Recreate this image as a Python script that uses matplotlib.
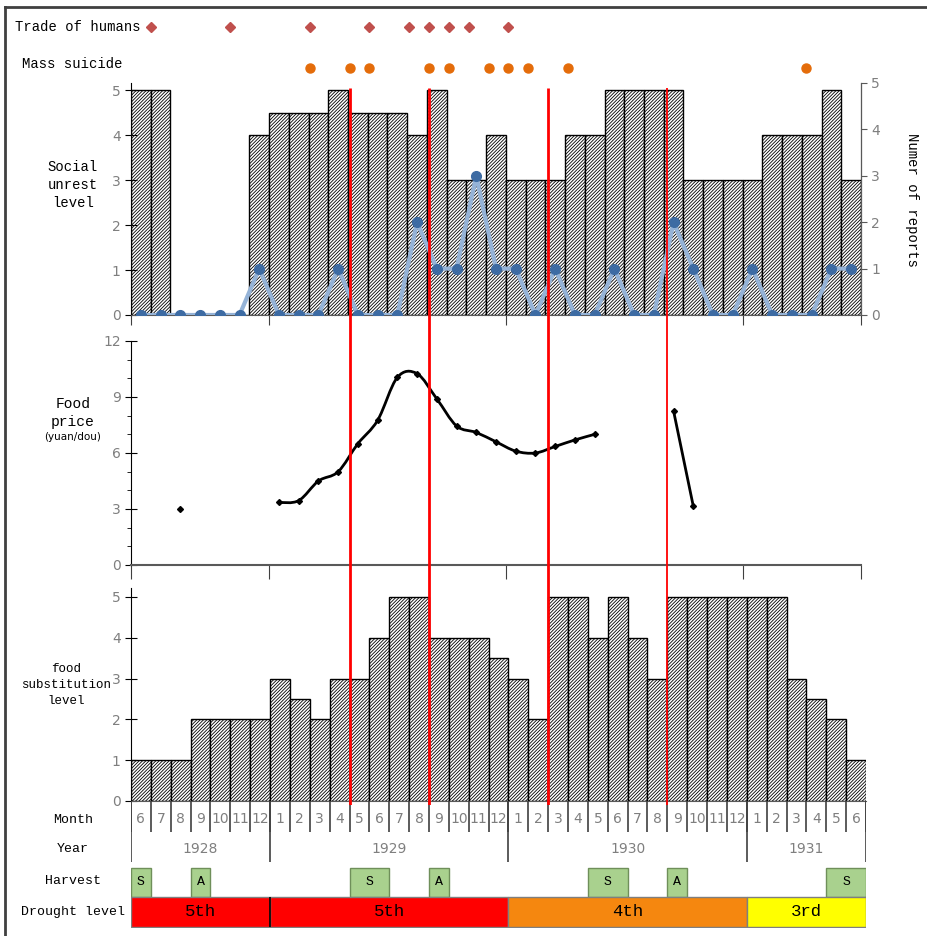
import matplotlib.pyplot as plt
import numpy as np
from matplotlib.path import Path
from matplotlib.patches import PathPatch, Rectangle
from matplotlib.lines import Line2D

plt.rcParams['hatch.linewidth'] = 0.6

## data, one value per month from June 1928 to June 1931
month_labels = [6, 7, 8, 9, 10, 11, 12,
                1, 2, 3, 4, 5, 6, 7, 8, 9, 10, 11, 12,
                1, 2, 3, 4, 5, 6, 7, 8, 9, 10, 11, 12,
                1, 2, 3, 4, 5, 6]
years = ['1928', '1929', '1930', '1931']
year_months = [7, 12, 12, 6]

unrest = [5, 5, 0, 0, 0, 0, 4,
          4.5, 4.5, 4.5, 5, 4.5, 4.5, 4.5, 4, 5, 3, 3, 4,
          3, 3, 3, 4, 4, 5, 5, 5, 5, 3, 3, 3,
          3, 4, 4, 4, 5, 3]
reports = [0, 0, 0, 0, 0, 0, 1,
           0, 0, 0, 1, 0, 0, 0, 2, 1, 1, 3, 1,
           1, 0, 1, 0, 0, 1, 0, 0, 2, 1, 0, 0,
           1, 0, 0, 0, 1, 1]
nan = np.nan
price = [nan, nan, 3.0, nan, nan, nan, nan,
         3.35, 3.45, 4.5, 5.0, 6.5, 7.75, 10.05, 10.25, 8.9, 7.45, 7.1, 6.6,
         6.1, 6.0, 6.35, 6.7, 7.0, nan, nan, nan, 8.25, 3.15, nan, nan, nan,
         nan, nan, nan, nan, nan, nan]
food_sub = [1, 1, 1, 2, 2, 2, 2,
            3, 2.5, 2, 3, 3, 4, 5, 5, 4, 4, 4, 3.5,
            3, 2, 5, 5, 4, 5, 4, 3, 5, 5, 5, 5,
            5, 5, 3, 2.5, 2, 1]

# events, in months counted from start of June 1928
trade = [1, 5, 9, 12, 14, 15, 16, 17, 19]
suicide = [9, 11, 12, 15, 16, 18, 19, 20, 22, 34]
red_lines = [11, 15, 21, 27]

harvest_start = [0, 3, 11, 15, 23, 27, 35]
harvest_len = [1, 1, 2, 1, 2, 1, 2]
harvest_lab = ['S', 'A', 'S', 'A', 'S', 'A', 'S']

drought_start = [0, 7, 19, 31]
drought_len = [7, 12, 12, 6]
drought_lab = ['5th', '5th', '4th', '3rd']
drought_col = ['#ff0000', '#ff0000', '#f5870f', '#ffff00']

W, H = 927, 936
N = len(month_labels)
mono = 'Liberation Mono'
grey = '#7f7f7f'
HATCH = '//////////'


def box(x0, y0, x1, y1):
    return [x0 / W, 1 - y1 / H, (x1 - x0) / W, (y1 - y0) / H]


def smooth(xs, ys):
    pts = np.column_stack([xs, ys])
    verts, codes = [pts[0]], [Path.MOVETO]
    n = len(pts)
    for i in range(n - 1):
        p0 = pts[i - 1] if i > 0 else pts[i]
        p1, p2 = pts[i], pts[i + 1]
        p3 = pts[i + 2] if i + 2 < n else p2
        verts += [p1 + (p2 - p0) / 6, p2 - (p3 - p1) / 6, p2]
        codes += [Path.CURVE4] * 3
    return Path(verts, codes)


fig = plt.figure(figsize=(W / 100, H / 100), dpi=100)
xc = np.arange(N) + 0.5

# events row
ax_ev = fig.add_axes(box(131, 10, 866, 80))
ax_ev.set_xlim(0, N)
ax_ev.set_ylim(-0.29, 1.41)
ax_ev.axis('off')
ax_ev.plot(trade, np.ones(len(trade)), 'D', ms=5, color='#c0504d', clip_on=False)
ax_ev.plot(suicide, np.zeros(len(suicide)), 'o', ms=6.5, color='#e46c0a', clip_on=False)
fig.text(141 / W, 1 - 27 / H, 'Trade of humans', ha='right', va='center', family=mono, fontsize=10)
fig.text(22 / W, 1 - 64 / H, 'Mass suicide', ha='left', va='center', family=mono, fontsize=10)

# social unrest
ax1 = fig.add_axes(box(131, 83, 861, 315))
ax1.bar(xc, unrest, width=1, facecolor='white', edgecolor='black', hatch=HATCH, lw=1)
ax1.set_xlim(0, N)
ax1.set_ylim(0, 5.16)
ax1.set_yticks(range(6))
ax1.set_xticks([0, 7, 19, 31, 37])
ax1.set_xticklabels([])
ax1.tick_params(axis='y', direction='inout', length=8, colors='black', labelcolor=grey, labelsize=10)
ax1.tick_params(axis='x', direction='out', length=7, color='#404040')
ax1.spines['top'].set_visible(False)
ax1.spines['bottom'].set_color('#595959')
ax1r = ax1.twinx()
ax1r.set_ylim(0, 5)
ax1r.plot(xc, reports, '-', color='#95b3d7', lw=3)
ax1r.plot(xc, reports, 'o', color='#3d6ba3', ms=7)
ax1r.set_yticks(range(6))
ax1r.tick_params(axis='y', direction='out', length=4, color='#595959', labelcolor=grey, labelsize=10)
for s in ['top', 'left']:
    ax1r.spines[s].set_visible(False)
ax1r.spines['right'].set_color('#595959')
ax1r.spines['bottom'].set_visible(False)
fig.text(73 / W, 1 - 185 / H, 'Social\nunrest\nlevel', ha='center', va='center',
         family=mono, fontsize=10, linespacing=1.35)
fig.text(912 / W, 1 - 200 / H, 'Numer of reports', ha='center', va='center', rotation=270,
         family=mono, fontsize=10)

# food price
ax2 = fig.add_axes(box(131, 341, 861, 565))
p = np.array(price)
ok = ~np.isnan(p)
runs, cur = [], []
for i in range(N):
    if ok[i]:
        cur.append(i)
    elif cur:
        runs.append(cur)
        cur = []
if cur:
    runs.append(cur)
for r in runs:
    if len(r) > 1:
        ax2.add_patch(PathPatch(smooth(xc[r], p[r]), facecolor='none', edgecolor='black', lw=2))
    ax2.plot(xc[r], p[r], 'D', color='black', ms=3)
ax2.set_xlim(0, N)
ax2.set_ylim(0, 12)
ax2.set_yticks([0, 3, 6, 9, 12])
ax2.set_yticks(range(13), minor=True)
ax2.set_xticks([0, 7, 19, 31, 37])
ax2.set_xticklabels([])
ax2.tick_params(axis='y', which='major', direction='inout', length=8, labelcolor=grey, labelsize=10)
ax2.tick_params(axis='y', which='minor', direction='out', length=3)
ax2.tick_params(axis='x', direction='out', length=10, color='#404040')
for s in ['top', 'right']:
    ax2.spines[s].set_visible(False)
ax2.spines['bottom'].set_color('#595959')
ax2.spines['bottom'].set_linewidth(1.5)
fig.text(73 / W, 1 - 413 / H, 'Food\nprice', ha='center', va='center',
         family=mono, fontsize=10.5, linespacing=1.3)
fig.text(73 / W, 1 - 437 / H, '(yuan/dou)', ha='center', va='center', fontsize=7.5)

# food substitution
ax3 = fig.add_axes(box(131, 588, 866, 801))
ax3.bar(xc, food_sub, width=1, facecolor='white', edgecolor='black', hatch=HATCH, lw=1)
ax3.set_xlim(0, N)
ax3.set_ylim(0, 5.22)
ax3.set_yticks(range(6))
ax3.set_xticks([])
ax3.tick_params(axis='y', direction='inout', length=8, labelcolor=grey, labelsize=10)
for s in ['top', 'right']:
    ax3.spines[s].set_visible(False)
ax3.spines['bottom'].set_color('#595959')
fig.text(66 / W, 1 - 685 / H, 'food\nsubstitution\nlevel', ha='center', va='center',
         family=mono, fontsize=9, linespacing=1.45)

# month / year rows
ax_m = fig.add_axes(box(131, 801, 866, 862))
ax_m.set_xlim(0, N)
ax_m.set_ylim(0, 1)
ax_m.axis('off')
ax_m.vlines(range(N + 1), 0.49, 1, color='#404040', lw=1.2)
ybounds = np.concatenate([[0], np.cumsum(year_months)])
ax_m.vlines(ybounds, 0, 1, color='#404040', lw=1.2)
for i, m in enumerate(month_labels):
    ax_m.text(i + 0.5, 0.7, str(m), ha='center', va='center', color=grey, fontsize=10)
for k, y in enumerate(years):
    ax_m.text((ybounds[k] + ybounds[k + 1]) / 2, 0.22, y, ha='center', va='center',
              color=grey, fontsize=10)

# harvest / drought rows
ax_h = fig.add_axes(box(131, 866, 866, 928))
ax_h.set_xlim(0, N)
ax_h.set_ylim(0, 1)
ax_h.axis('off')
for s, l, t in zip(harvest_start, harvest_len, harvest_lab):
    ax_h.add_patch(Rectangle((s, 0.5), l, 0.47, facecolor='#a9d18e', edgecolor='#6f8f5a', lw=1))
    ax_h.text(s + l / 2, 0.735, t, ha='center', va='center', family=mono, fontsize=9.5)
for s, l, t, c in zip(drought_start, drought_len, drought_lab, drought_col):
    ax_h.add_patch(Rectangle((s, 0.02), l, 0.48, facecolor=c, edgecolor='#7f7f7f', lw=1))
    ax_h.text(s + l / 2, 0.26, t, ha='center', va='center', family=mono, fontsize=12.5)
ax_h.vlines(drought_start[1], 0.02, 0.5, color='black', lw=1.2)

for lab, y in [('Month', 820), ('Year', 849), ('Harvest', 881), ('Drought level', 912)]:
    fig.text(73 / W, 1 - y / H, lab, ha='center', va='center', family=mono, fontsize=9.5)

# red marker lines across the panels
ax_r = fig.add_axes(box(131, 88, 866, 805))
ax_r.set_xlim(0, N)
ax_r.set_ylim(0, 1)
ax_r.axis('off')
ax_r.vlines(red_lines[:3], 0, 1, color='red', lw=2)
ax_r.vlines(red_lines[3:], 0, 1, color='red', lw=1.3)

# frame of the picture
fig.add_artist(Line2D([5 / W, 5 / W], [0, 1 - 7 / H], color='#404040', lw=2))
fig.add_artist(Line2D([5 / W, 1], [1 - 7 / H, 1 - 7 / H], color='#404040', lw=2))

fig.savefig('out.png', dpi=100)
